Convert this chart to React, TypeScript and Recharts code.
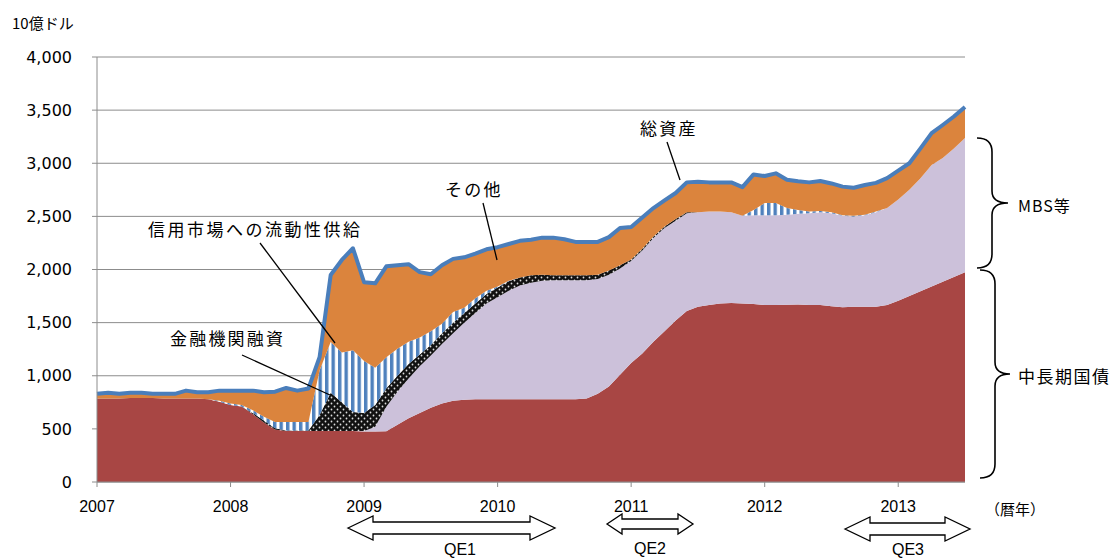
import React from "react"
import { ComposedChart, Area, Line, XAxis, YAxis, CartesianGrid } from "recharts"

// 月次 2007/01 - 2013/07, 単位: 10億ドル
const months = Array.from({ length: 79 }, (_, i) => `${2007 + Math.floor(i / 12)}/${(i % 12) + 1}`)
const yearLabels = ["2007", "2008", "2009", "2010", "2011", "2012", "2013"]
const yearTicks = [0, 12, 24, 36, 48, 60, 72]
const yTicks = [0, 500, 1000, 1500, 2000, 2500, 3000, 3500, 4000]

const treasuries = [
  785, 785, 785, 790, 790, 790, 785, 785, 785, 785, 780, 755, 725, 710, 640, 560, 495, 480, 480, 480,
  480, 480, 480, 480, 475, 475, 478, 540, 600, 650, 700, 740, 765, 775, 780, 780, 780, 780, 780, 780,
  780, 780, 780, 780, 785, 830, 900, 1010, 1120, 1210, 1320, 1420, 1520, 1610, 1650, 1665, 1680, 1685, 1680, 1675,
  1665, 1665, 1668, 1670, 1665, 1665, 1655, 1645, 1650, 1650, 1650, 1665, 1705, 1750, 1795, 1840, 1885, 1930, 1975,
]
const mbs = [
  0, 0, 0, 0, 0, 0, 0, 0, 0, 0, 0, 0, 0, 0, 0, 0, 0, 0, 0, 0,
  0, 0, 0, 0, 5, 45, 230, 310, 375, 440, 490, 560, 635, 725, 810, 900, 960, 1020, 1070, 1095,
  1115, 1120, 1120, 1120, 1115, 1080, 1050, 1000, 960, 970, 976, 970, 940, 920, 890, 880, 865, 855, 825, 835,
  845, 845, 847, 855, 865, 875, 875, 860, 850, 860, 890, 915, 955, 1000, 1065, 1143, 1165, 1210, 1262,
]
const loans = [
  0, 0, 0, 0, 0, 0, 0, 0, 0, 0, 0, 0, 0, 0, 10, 20, 10, 5, 5, 5,
  150, 360, 270, 180, 170, 205, 175, 150, 135, 110, 100, 100, 100, 90, 90, 90, 90, 90, 75, 70,
  55, 45, 45, 45, 45, 40, 40, 30, 15, 15, 15, 15, 15, 10, 0, 0, 0, 0, 0, 0,
  0, 0, 0, 0, 0, 0, 0, 0, 0, 0, 0, 0, 0, 0, 0, 0, 0, 0, 0,
]
const liquidity = [
  0, 0, 0, 0, 0, 0, 0, 0, 0, 0, 0, 10, 15, 15, 25, 35, 60, 80, 80, 80,
  420, 477, 470, 580, 490, 350, 290, 255, 210, 160, 130, 90, 100, 50, 50, 30, 10, 5, 0, 0,
  0, 0, 0, 0, 0, 0, 0, 0, 0, 0, 0, 0, 0, 0, 0, 0, 0, 0, 0, 50,
  115, 115, 65, 35, 15, 10, 10, 5, 5, 5, 5, 0, 0, 0, 0, 0, 0, 0, 0,
]
const others = [
  45, 55, 45, 50, 50, 40, 45, 45, 75, 60, 65, 95, 120, 135, 185, 230, 285, 320, 295, 315,
  125, 631, 870, 960, 740, 795, 857, 785, 730, 615, 535, 550, 500, 475, 420, 390, 370, 345, 345, 335,
  350, 355, 340, 315, 315, 310, 315, 350, 305, 295, 267, 245, 245, 280, 285, 275, 275, 280, 270, 335,
  255, 280, 265, 270, 275, 283, 270, 270, 265, 280, 270, 280, 270, 250, 280, 300, 310, 300, 292,
]
const totalAssets = [
  830, 840, 830, 840, 840, 830, 830, 830, 860, 845, 845, 860, 860, 860, 860, 845, 850, 885, 860, 880,
  1175, 1948, 2090, 2200, 1880, 1870, 2030, 2040, 2050, 1975, 1955, 2040, 2100, 2115, 2150, 2190, 2210, 2240, 2270, 2280,
  2300, 2300, 2285, 2260, 2260, 2260, 2305, 2390, 2400, 2490, 2578, 2650, 2720, 2820, 2825, 2820, 2820, 2820, 2775, 2895,
  2880, 2905, 2845, 2830, 2820, 2833, 2810, 2780, 2770, 2795, 2815, 2860, 2930, 3000, 3140, 3283, 3360, 3440, 3529,
]

const data = months.map((m, i) => ({
  month: m,
  idx: i,
  treasuries: treasuries[i],
  mbs: mbs[i],
  loans: loans[i],
  liquidity: liquidity[i],
  others: others[i],
  total: totalAssets[i],
}))

const jp = '"Noto Sans CJK JP", "DejaVu Sans", sans-serif'

function Brace({ x0, xv, xt, y1, y2 }: { x0: number; xv: number; xt: number; y1: number; y2: number }) {
  const mid = (y1 + y2) / 2
  const d = `M${x0},${y1} Q${xv},${y1} ${xv},${y1 + 14} L${xv},${mid - 12} Q${xv},${mid} ${xt},${mid} Q${xv},${mid} ${xv},${mid + 12} L${xv},${y2 - 14} Q${xv},${y2} ${x0},${y2}`
  return <path d={d} fill="none" stroke="#000" strokeWidth={1.6} />
}

function DoubleArrow({ xl, xr, cy, hh, sh, hl }: { xl: number; xr: number; cy: number; hh: number; sh: number; hl: number }) {
  const pts = [
    [xl, cy], [xl + hl, cy - hh], [xl + hl, cy - sh], [xr - hl, cy - sh], [xr - hl, cy - hh],
    [xr, cy], [xr - hl, cy + hh], [xr - hl, cy + sh], [xl + hl, cy + sh], [xl + hl, cy + hh],
  ].map((p) => p.join(",")).join(" ")
  return <polygon points={pts} fill="#fff" stroke="#000" strokeWidth={1.3} />
}

export default function App() {
  return (
    <div style={{ position: "absolute", left: 0, top: 0, width: 1114, height: 558, background: "#fff" }}>
      <ComposedChart width={1114} height={558} data={data} margin={{ top: 57, right: 149, bottom: 46, left: 0 }}>
        <defs>
          <pattern id="stripes" width="6.5" height="10" patternUnits="userSpaceOnUse">
            <rect width="6.5" height="10" fill="#fff" />
            <rect width="3.4" height="10" fill="#4F81BD" />
          </pattern>
          <pattern id="dots" width="6" height="6" patternUnits="userSpaceOnUse">
            <rect width="6" height="6" fill="#111" />
            <circle cx="1.5" cy="1.5" r="0.9" fill="#ddd" />
            <circle cx="4.5" cy="4.5" r="0.9" fill="#ddd" />
          </pattern>
        </defs>
        <CartesianGrid vertical={false} stroke="#8c8c8c" strokeWidth={1} />
        <XAxis
          type="number"
          dataKey="idx"
          domain={[0, 78]}
          ticks={yearTicks}
          tickFormatter={(v) => yearLabels[yearTicks.indexOf(v)]}
          stroke="#8c8c8c"
          tickSize={5}
          tickMargin={14}
          height={30}
          tick={{ fill: "#000", fontSize: 16, fontFamily: '"Liberation Sans", Arial, sans-serif' }}
        />
        <YAxis
          domain={[0, 4000]}
          ticks={yTicks}
          tickFormatter={(v) => v.toLocaleString("en-US")}
          stroke="#8c8c8c"
          tickSize={5}
          tickMargin={20}
          width={97}
          tick={{ fill: "#000", fontSize: 16, fontFamily: '"DejaVu Sans", sans-serif' }}
        />
        <Area type="linear" dataKey="treasuries" stackId="1" stroke="none" fill="#A84644" fillOpacity={1} isAnimationActive={false} activeDot={false} />
        <Area type="linear" dataKey="mbs" stackId="1" stroke="none" fill="#CCC1DA" fillOpacity={1} isAnimationActive={false} activeDot={false} />
        <Area type="linear" dataKey="loans" stackId="1" stroke="none" fill="url(#dots)" fillOpacity={1} isAnimationActive={false} activeDot={false} />
        <Area type="linear" dataKey="liquidity" stackId="1" stroke="none" fill="url(#stripes)" fillOpacity={1} isAnimationActive={false} activeDot={false} />
        <Area type="linear" dataKey="others" stackId="1" stroke="none" fill="#DB843D" fillOpacity={1} isAnimationActive={false} activeDot={false} />
        <Line type="linear" dataKey="total" stroke="#4A7EBB" strokeWidth={4} strokeLinejoin="round" dot={false} activeDot={false} isAnimationActive={false} />
      </ComposedChart>
      <svg width={1114} height={558} style={{ position: "absolute", left: 0, top: 0, pointerEvents: "none" }}>
        <g fontFamily={jp} fill="#000">
          <text x={12} y={22} fontSize={15} dominantBaseline="central">10億ドル</text>
          <text x={640} y={127} fontSize={17} letterSpacing={2.2} dominantBaseline="central">総資産</text>
          <text x={445} y={188} fontSize={17} letterSpacing={2.2} dominantBaseline="central">その他</text>
          <text x={148} y={228} fontSize={17} letterSpacing={2.5} dominantBaseline="central">信用市場への流動性供給</text>
          <text x={170} y={337} fontSize={17} letterSpacing={2.2} dominantBaseline="central">金融機関融資</text>
          <text x={1018} y={205} fontSize={16} letterSpacing={1} dominantBaseline="central">MBS等</text>
          <text x={1018} y={375} fontSize={17} letterSpacing={1.5} dominantBaseline="central">中長期国債</text>
          <text x={985} y={508} fontSize={15} dominantBaseline="central">（暦年）</text>
        </g>
        <g stroke="#000" strokeWidth={1.3}>
          <line x1={667} y1={142} x2={680} y2={180} />
          <line x1={483} y1={203} x2={497} y2={260} />
          <line x1={260} y1={243} x2={335} y2={343} />
          <line x1={242} y1={355} x2={330} y2={395} />
        </g>
        <Brace x0={977} xv={992} xt={1008} y1={138} y2={268} />
        <Brace x0={980} xv={995} xt={1010} y1={270} y2={478} />
        <DoubleArrow xl={348} xr={555} cy={528} hh={12} sh={6} hl={25} />
        <DoubleArrow xl={607} xr={693} cy={524} hh={10} sh={5} hl={15} />
        <DoubleArrow xl={845} xr={970} cy={529} hh={12} sh={6} hl={25} />
        <g fontFamily='"Liberation Sans", Arial, sans-serif' fontSize={16} fill="#000" textAnchor="middle">
          <text x={460} y={555}>QE1</text>
          <text x={650} y={554}>QE2</text>
          <text x={908} y={555}>QE3</text>
        </g>
      </svg>
    </div>
  )
}
